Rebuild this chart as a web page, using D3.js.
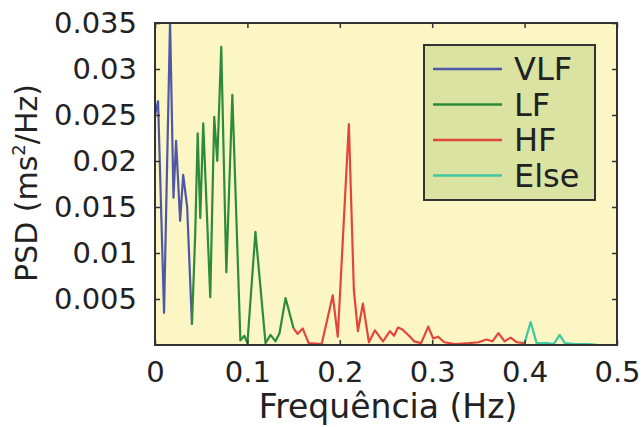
<!DOCTYPE html>
<html>
<head>
<meta charset="utf-8">
<script src="https://cdn.jsdelivr.net/npm/d3@7"></script>
<style>
  body { margin: 0; background: #ffffff; }
  svg text { font-family: "DejaVu Sans", sans-serif; fill: #222; }
</style>
</head>
<body>
<div id="psd"></div>
<script>
// psd chart, one line for each band
var vlfFreq = [0.000, 0.0033, 0.0098, 0.0163, 0.0200, 0.0228, 0.0272, 0.0305, 0.0348, 0.0400];
var vlfPsd  = [0.0250, 0.0265, 0.0035, 0.0352, 0.0160, 0.0222, 0.0135, 0.0185, 0.0150, 0.0022];

var lfFreq = [0.0400, 0.0435, 0.0462, 0.0490, 0.0522, 0.0598, 0.0641, 0.0674, 0.0717, 0.0772,
              0.0837, 0.0924, 0.0967, 0.1000, 0.1087, 0.1196, 0.1250, 0.1304, 0.1348, 0.1413, 0.1500];
var lfPsd  = [0.0022, 0.0120, 0.0230, 0.0138, 0.0241, 0.0052, 0.0248, 0.0200, 0.0324, 0.0079,
              0.0272, 0.0005, 0.0010, 0.0002, 0.0123, 0.0002, 0.0011, 0.0004, 0.0013, 0.0051, 0.0018];

var hfFreq = [0.1500, 0.1543, 0.1598, 0.1663, 0.1804, 0.1924, 0.1978, 0.2098, 0.2152, 0.2196,
              0.2250, 0.2315, 0.2380, 0.2467, 0.2543, 0.2587, 0.2630, 0.2674, 0.2750, 0.2804,
              0.2880, 0.2957, 0.3011, 0.3065, 0.3130, 0.3250, 0.3400, 0.3500, 0.3587, 0.3652,
              0.3717, 0.3783, 0.3848, 0.3913, 0.4000];
var hfPsd  = [0.0018, 0.0012, 0.0018, 0.0002, 0.0001, 0.0054, 0.0009, 0.0240, 0.0060, 0.0015,
              0.0045, 0.0003, 0.0016, 0.0004, 0.0015, 0.0010, 0.0019, 0.0017, 0.0010, 0.0004,
              0.0002, 0.0020, 0.0007, 0.0009, 0.0003, 0.0001, 0.0002, 0.0003, 0.0006, 0.0004,
              0.0013, 0.0004, 0.0008, 0.0003, 0.0002];

var elseFreq = [0.4000, 0.4065, 0.4130, 0.4250, 0.4315, 0.4380, 0.4435, 0.4550, 0.4700, 0.4800];
var elsePsd  = [0.0002, 0.0025, 0.0002, 0.0002, 0.0001, 0.0011, 0.0002, 0.0001, 0.0001, 0.0000];

var bandNames = ["VLF", "LF", "HF", "Else"];
var bandColors = ["#4f58a6", "#2c8c3c", "#e2463b", "#3ec9a0"];

var xTicks = [0, 0.1, 0.2, 0.3, 0.4, 0.5];
var xTickLabels = ["0", "0.1", "0.2", "0.3", "0.4", "0.5"];
var yTicks = [0.005, 0.01, 0.015, 0.02, 0.025, 0.03, 0.035];
var yTickLabels = ["0.005", "0.01", "0.015", "0.02", "0.025", "0.03", "0.035"];

var margin = { top: 23, right: 25, bottom: 82, left: 155 },
    width = 642 - margin.left - margin.right,
    height = 427 - margin.top - margin.bottom;

var svg = d3.select('#psd')
  .append('svg')
  .attr('width', 642)
  .attr('height', 427);

var g = svg.append('g')
  .attr('transform', 'translate(' + margin.left + ',' + margin.top + ')');

var x = d3.scaleLinear().domain([0, 0.5]).range([0, width]);
var y = d3.scaleLinear().domain([0, 0.035]).range([height, 0]);

// plot background
g.append('rect')
  .attr('width', width)
  .attr('height', height)
  .attr('fill', '#fcf6c4');

g.append('clipPath')
  .attr('id', 'clip')
  .append('rect')
  .attr('width', width)
  .attr('height', height);

var bands = [
  { name: bandNames[0], color: bandColors[0], freq: vlfFreq, psd: vlfPsd },
  { name: bandNames[1], color: bandColors[1], freq: lfFreq, psd: lfPsd },
  { name: bandNames[2], color: bandColors[2], freq: hfFreq, psd: hfPsd },
  { name: bandNames[3], color: bandColors[3], freq: elseFreq, psd: elsePsd }
];

var line = d3.line()
  .x(d => x(d[0]))
  .y(d => y(d[1]));

g.append('g')
  .attr('clip-path', 'url(#clip)')
  .selectAll('path')
  .data(bands)
  .enter()
  .append('path')
  .attr('d', d => line(d.freq.map((f, i) => [f, d.psd[i]])))
  .attr('fill', 'none')
  .attr('stroke', d => d.color)
  .attr('stroke-width', 2.2)
  .attr('stroke-linejoin', 'round');

// axes, ticks pointing inside like matlab
var xAxis = g.append('g')
  .attr('transform', 'translate(0,' + height + ')')
  .call(d3.axisBottom(x).tickValues(xTicks).tickFormat((d, i) => xTickLabels[i])
    .tickSizeInner(-5).tickSizeOuter(0).tickPadding(16));

var yAxis = g.append('g')
  .call(d3.axisLeft(y).tickValues(yTicks).tickFormat((d, i) => yTickLabels[i])
    .tickSizeInner(-5).tickSizeOuter(0).tickPadding(18));

g.append('g')
  .call(d3.axisTop(x).tickValues(xTicks).tickFormat('').tickSizeInner(-5).tickSizeOuter(0));
g.append('g')
  .attr('transform', 'translate(' + width + ',0)')
  .call(d3.axisRight(y).tickValues(yTicks).tickFormat('').tickSizeInner(-5).tickSizeOuter(0));

g.selectAll('.domain').remove();
g.selectAll('.tick line').attr('stroke', '#333').attr('stroke-width', 1.5);
g.selectAll('.tick text').attr('font-size', 29).attr('fill', '#222');

// frame
g.append('rect')
  .attr('width', width)
  .attr('height', height)
  .attr('fill', 'none')
  .attr('stroke', '#333')
  .attr('stroke-width', 2);

// axis labels
g.append('text')
  .attr('x', width / 2 + 2)
  .attr('y', height + 73)
  .attr('text-anchor', 'middle')
  .attr('font-size', 33)
  .text('Frequência (Hz)');

var yLabel = svg.append('text')
  .attr('transform', 'translate(37,183) rotate(-90)')
  .attr('text-anchor', 'middle')
  .attr('font-size', 30);
yLabel.append('tspan').text('PSD (ms');
yLabel.append('tspan').attr('font-size', 18).attr('dy', -12).text('2');
yLabel.append('tspan').attr('dy', 12).text('/Hz)');

// legend
var legend = svg.append('g')
  .attr('transform', 'translate(424,45)');

legend.append('rect')
  .attr('width', 171)
  .attr('height', 155)
  .attr('fill', '#dbe3a2')
  .attr('stroke', '#333')
  .attr('stroke-width', 2);

var item = legend.selectAll('.item')
  .data(bands)
  .enter()
  .append('g')
  .attr('class', 'item')
  .attr('transform', (d, i) => 'translate(0,' + (24 + i * 35.5) + ')');

item.append('line')
  .attr('x1', 9)
  .attr('x2', 78)
  .attr('stroke', d => d.color)
  .attr('stroke-width', 2.5);

item.append('text')
  .attr('x', 90)
  .attr('y', 11)
  .attr('font-size', 32)
  .text(d => d.name);
</script>
</body>
</html>
